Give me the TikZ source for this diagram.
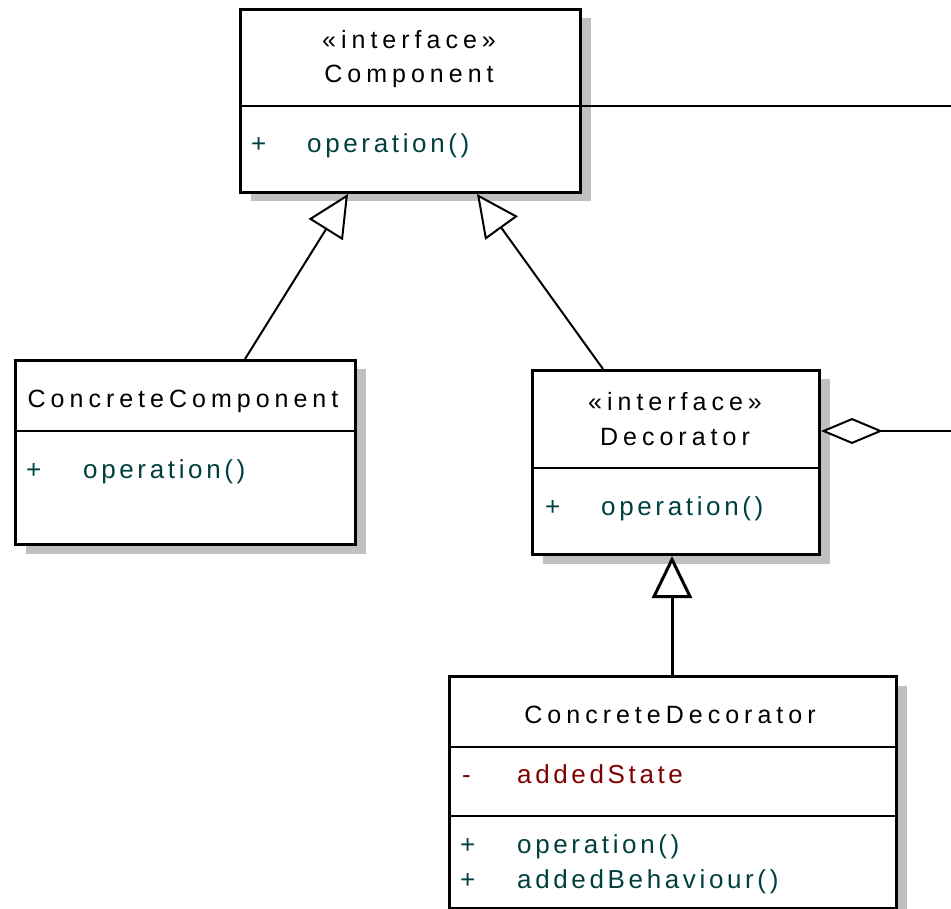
\documentclass[tikz,border=0pt]{standalone}
\usepackage{fontspec}
\setmainfont{Liberation Sans}
\newfontfamily\titlefont[LetterSpace=20]{Liberation Sans}
\newfontfamily\memberfont[LetterSpace=14]{Liberation Sans}
\usetikzlibrary{arrows.meta,shadows,calc}
\definecolor{shadowgray}{RGB}{192,192,192}
\definecolor{optext}{RGB}{0,64,64}
\definecolor{attrtext}{RGB}{128,0,0}
\begin{document}
\begin{tikzpicture}[x=1pt,y=-1pt,
  cls/.style={draw, line width=3pt, fill=white, rectangle, inner sep=0pt, anchor=north west,
    drop shadow={shadow xshift=10pt, shadow yshift=-9pt, fill=shadowgray, opacity=1}},
  sep/.style={line width=2pt},
  title/.style={font=\titlefont\fontsize{25}{30}\selectfont, inner sep=0pt, anchor=base},
  member/.style={font=\memberfont\fontsize{26}{30}\selectfont, inner sep=0pt, anchor=base west, text=optext},
  attr/.style={member, text=attrtext},
  gen/.style={line width=2pt, -{Triangle[open, length=42pt, width=40pt, fill=white]}},
  agg/.style={line width=2pt, {Diamond[open, length=62pt, width=26pt, fill=white]}-},
  assoc/.style={line width=2pt}]
\useasboundingbox (0,0) rectangle (951,909);

% class boxes
\node[cls, minimum width=340pt, minimum height=183pt] (comp) at (239,8) {};
\node[cls, minimum width=340pt, minimum height=184pt] (cc) at (14,359) {};
\node[cls, minimum width=287pt, minimum height=184pt] (dec) at (531,369) {};
\node[cls, minimum width=447pt, minimum height=232pt] (cd) at (448,675) {};

% compartment separators
\draw[sep] ($(comp.north west)+(0,98)$) -- ($(comp.north east)+(0,98)$);
\draw[sep] ($(cc.north west)+(0,72)$) -- ($(cc.north east)+(0,72)$);
\draw[sep] ($(dec.north west)+(0,99)$) -- ($(dec.north east)+(0,99)$);
\draw[sep] ($(cd.north west)+(0,72)$) -- ($(cd.north east)+(0,72)$);
\draw[sep] ($(cd.north west)+(0,141)$) -- ($(cd.north east)+(0,141)$);

% Component
\node[title] (compst) at (409,49) {«interface»};
\node[title] (compname) at (409,83) {Component};
\node[member] (compvis) at (251,153) {+};
\node[member] (compop) at (307,153) {operation()};

% ConcreteComponent
\node[title] (ccname) at (183,407) {ConcreteComponent};
\node[member] (ccvis) at (26,478) {+};
\node[member] (ccop) at (83,478) {operation()};

% Decorator
\node[title] (decst) at (675,410) {«interface»};
\node[title] (decname) at (675,445) {Decorator};
\node[member] (decvis) at (545,515) {+};
\node[member] (decop) at (601,515) {operation()};

% ConcreteDecorator
\node[title] (cdname) at (670,723) {ConcreteDecorator};
\node[attr] (cdattrvis) at (462,783) {-};
\node[attr] (cdattr) at (517,783) {addedState};
\node[member] (cdvis1) at (460,853) {+};
\node[member] (cdop1) at (517,853) {operation()};
\node[member] (cdvis2) at (460,888) {+};
\node[member] (cdop2) at (517,888) {addedBehaviour()};

% connector ends at the right border
\coordinate (compout) at (951,106);
\coordinate (decout) at (951,431);

% generalizations
\draw[gen] ($(cc.north west)+(231,0)$) -- ($(comp.south west)+(109,0)$);
\draw[gen] ($(dec.north west)+(72,0)$) -- ($(comp.south west)+(238,0)$);
\draw[gen, line width=3pt] ($(cd.north west)+(224,0)$) -- ($(dec.south west)+(141,0)$);

% associations
\draw[assoc] ($(comp.north east)+(0,98)$) -- (compout);
\draw[agg] ($(dec.north east)+(0,62)$) -- (decout);
\end{tikzpicture}
\end{document}
